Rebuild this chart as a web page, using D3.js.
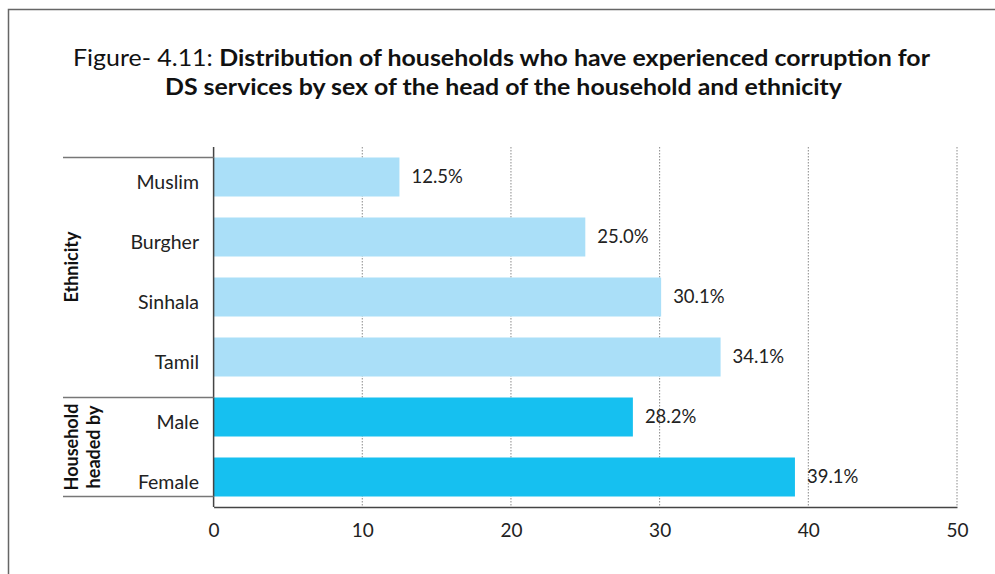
<!DOCTYPE html>
<html>
<head>
<meta charset="utf-8">
<script src="https://cdn.jsdelivr.net/npm/d3@7"></script>
<style>
  html, body { margin: 0; padding: 0; background: #fff; }
  svg { display: block; font-family: Lato, "Open Sans", sans-serif; }
</style>
</head>
<body>
<svg id="chart" width="995" height="574"></svg>
<script>
// Categories top to bottom, with their group and value (%)
const categories = ["Muslim", "Burgher", "Sinhala", "Tamil", "Male", "Female"];
const values = [12.5, 25.0, 30.1, 34.1, 28.2, 39.1];
const groupOf = ["eth", "eth", "eth", "eth", "hh", "hh"];
const groups = [
  { key: "eth", lines: ["Ethnicity"], first: "Muslim", last: "Tamil" },
  { key: "hh", lines: ["Household", "headed by"], first: "Male", last: "Female" }
];
const xTicks = [0, 10, 20, 30, 40, 50];
const titleLine1 = ["Figure- 4.11:  ", "Distribution of households who have experienced corruption for"];
const titleLine2 = "DS services by sex of the head of the household and ethnicity";

const colors = { eth: "#aadff8", hh: "#16c0f0" };

const svg = d3.select("#chart");

// outer frame (top and left edges visible)
svg.append("path")
  .attr("d", "M8.5,574 V9.5 H995")
  .attr("fill", "none").attr("stroke", "#666").attr("stroke-width", 1.5);

// title, two centred lines stretched to the frame's title width
const t1 = svg.append("text")
  .attr("x", 501.5).attr("y", 66)
  .attr("text-anchor", "middle")
  .attr("font-size", 23).attr("fill", "#111")
  .attr("textLength", 857).attr("lengthAdjust", "spacingAndGlyphs");
t1.append("tspan").attr("font-weight", 400).text(titleLine1[0]);
t1.append("tspan").attr("font-weight", 700).text(titleLine1[1]);
svg.append("text")
  .attr("x", 503.5).attr("y", 95)
  .attr("text-anchor", "middle")
  .attr("font-size", 23).attr("font-weight", 700).attr("fill", "#111")
  .attr("textLength", 677).attr("lengthAdjust", "spacingAndGlyphs")
  .text(titleLine2);

// scales
const x = d3.scaleLinear().domain([0, 50]).range([213.6, 957]);
const y = d3.scaleBand().domain(categories).range([147, 507])
  .paddingInner(0.35).paddingOuter(0.175);

// dotted vertical gridlines
svg.append("g")
  .selectAll("line")
  .data(xTicks.filter(d => d > 0))
  .join("line")
  .attr("x1", d => x(d)).attr("x2", d => x(d))
  .attr("y1", 147).attr("y2", 507)
  .attr("stroke", "#8a8a8a").attr("stroke-width", 1)
  .attr("stroke-dasharray", "1.5,1.5");

// bars
svg.append("g")
  .selectAll("rect")
  .data(categories)
  .join("rect")
  .attr("x", x(0))
  .attr("y", d => y(d))
  .attr("width", (d, i) => x(values[i]) - x(0))
  .attr("height", y.bandwidth())
  .attr("fill", (d, i) => colors[groupOf[i]]);

// value labels
svg.append("g")
  .selectAll("text")
  .data(categories)
  .join("text")
  .attr("x", (d, i) => x(values[i]) + 12)
  .attr("y", d => y(d) + y.bandwidth() / 2)
  .attr("dy", "0.35em")
  .attr("font-size", 18.5).attr("fill", "#222")
  .text((d, i) => values[i].toFixed(1) + "%");

// axes lines
svg.append("line")
  .attr("x1", x(0)).attr("x2", x(0)).attr("y1", 147).attr("y2", 507)
  .attr("stroke", "#444").attr("stroke-width", 1.5);

const xAxis = svg.append("g")
  .attr("transform", "translate(0,507)")
  .call(d3.axisBottom(x).tickValues(xTicks).tickSize(0).tickPadding(17));
xAxis.select(".domain").attr("stroke", "#444").attr("stroke-width", 1.5);
xAxis.selectAll("text")
  .attr("font-family", "Lato, 'Open Sans', sans-serif")
  .attr("font-size", 19).attr("fill", "#222");

// category labels
svg.append("g")
  .selectAll("text")
  .data(categories)
  .join("text")
  .attr("x", 199)
  .attr("y", d => y(d) + y.bandwidth() / 2 + 5)
  .attr("dy", "0.35em")
  .attr("text-anchor", "end")
  .attr("font-size", 19.5).attr("fill", "#222")
  .text(d => d);

// group brackets: horizontal separators
const sepY = [y(groups[0].first), y(groups[1].first), y(groups[1].last) + y.bandwidth()];
svg.append("g")
  .selectAll("line")
  .data(sepY)
  .join("line")
  .attr("x1", 63).attr("x2", x(0))
  .attr("y1", d => d).attr("y2", d => d)
  .attr("stroke", "#777").attr("stroke-width", 1.5);

// rotated group labels
groups.forEach(g => {
  const top = y(g.first);
  const bottom = y(g.last) + y.bandwidth();
  const cy = (top + bottom) / 2;
  const lineGap = 21.5;
  const txt = svg.append("text")
    .attr("transform", `translate(72,${cy}) rotate(-90)`)
    .attr("text-anchor", "middle")
    .attr("font-size", 18).attr("font-weight", 700).attr("fill", "#111");
  g.lines.forEach((line, i) => {
    txt.append("tspan")
      .attr("x", 0)
      .attr("y", i * lineGap)
      .attr("dy", "0.35em")
      .text(line);
  });
});
</script>
</body>
</html>
